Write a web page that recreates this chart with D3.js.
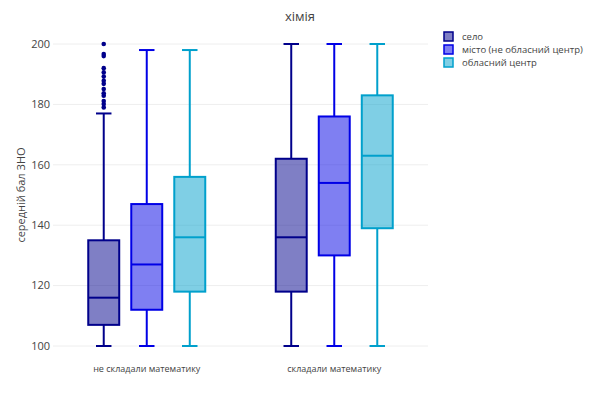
<!DOCTYPE html>
<html>
<head>
<meta charset="utf-8">
<script src="https://cdn.jsdelivr.net/npm/d3@7"></script>
<style>
  body { margin: 0; background: #fff; }
  text { font-family: "Open Sans", sans-serif; fill: #444; }
</style>
</head>
<body>
<div id="chart"></div>
<script>
// categories and series
const groups = ['не складали математику', 'складали математику']
const seriesNames = ['село', 'місто (не обласний центр)', 'обласний центр']
const seriesColors = ['#00008b', '#0000e6', '#00a0cc']
const yTicks = [100, 120, 140, 160, 180, 200]

// box stats per series: [group1, group2] -> [low, q1, median, q3, high]
const selo = [[100, 107, 116, 135, 177], [100, 118, 136, 162, 200]]
const misto = [[100, 112, 127, 147, 198], [100, 130, 154, 176, 200]]
const oblCentr = [[100, 118, 136, 156, 198], [100, 139, 163, 183, 200]]
// outliers (only село, first group)
const seloOutliers = [179, 180.1, 181.1, 182.9, 183.7, 185.1, 186.8, 187.8, 189.2, 190.6, 192, 196, 196.7, 200]

const allStats = [selo, misto, oblCentr]

const width = 600, height = 399
const margin = { top: 44, right: 172, bottom: 53, left: 53 }

const svg = d3.select('#chart')
  .append('svg')
  .attr('width', width)
  .attr('height', height)

const y = d3.scaleLinear()
  .domain([100, 200])
  .range([height - margin.bottom, margin.top])

const x = d3.scaleBand()
  .domain(groups)
  .range([margin.left, width - margin.right])

const xInner = d3.scaleBand()
  .domain(seriesNames)
  .range([-58.5, 58.5])
  .paddingInner(0.28)

// grid
svg.append('g')
  .selectAll('line')
  .data(yTicks)
  .join('line')
  .attr('x1', margin.left)
  .attr('x2', width - margin.right)
  .attr('y1', d => y(d))
  .attr('y2', d => y(d))
  .attr('stroke', '#eee')
  .attr('stroke-width', 1)

// y tick labels
svg.append('g')
  .selectAll('text')
  .data(yTicks)
  .join('text')
  .attr('x', margin.left - 3)
  .attr('y', d => y(d))
  .attr('dy', '0.35em')
  .attr('text-anchor', 'end')
  .style('font-size', '11px')
  .text(d => d)

// x tick labels
svg.append('g')
  .selectAll('text')
  .data(groups)
  .join('text')
  .attr('x', d => x(d) + x.bandwidth() / 2)
  .attr('y', height - margin.bottom + 26)
  .attr('text-anchor', 'middle')
  .style('font-size', '9px')
  .text(d => d)

// boxes
const bw = xInner.bandwidth()
allStats.forEach((stats, si) => {
  const color = seriesColors[si]
  stats.forEach((s, gi) => {
    const cx = x(groups[gi]) + x.bandwidth() / 2 + xInner(seriesNames[si]) + bw / 2
    const g = svg.append('g')
    const [lo, q1, med, q3, hi] = s
    g.append('line')
      .attr('x1', cx).attr('x2', cx)
      .attr('y1', y(lo)).attr('y2', y(q1))
      .attr('stroke', color).attr('stroke-width', 2)
    g.append('line')
      .attr('x1', cx).attr('x2', cx)
      .attr('y1', y(q3)).attr('y2', y(hi))
      .attr('stroke', color).attr('stroke-width', 2)
    g.selectAll('line.cap')
      .data([lo, hi])
      .join('line')
      .attr('class', 'cap')
      .attr('x1', cx - bw / 4).attr('x2', cx + bw / 4)
      .attr('y1', d => y(d)).attr('y2', d => y(d))
      .attr('stroke', color).attr('stroke-width', 2)
    g.append('rect')
      .attr('x', cx - bw / 2)
      .attr('y', y(q3))
      .attr('width', bw)
      .attr('height', y(q1) - y(q3))
      .attr('fill', color)
      .attr('fill-opacity', 0.5)
      .attr('stroke', color)
      .attr('stroke-width', 2)
    g.append('line')
      .attr('x1', cx - bw / 2).attr('x2', cx + bw / 2)
      .attr('y1', y(med)).attr('y2', y(med))
      .attr('stroke', color).attr('stroke-width', 2)

    if (si === 0 && gi === 0) {
      g.selectAll('circle')
        .data(seloOutliers)
        .join('circle')
        .attr('cx', cx)
        .attr('cy', d => y(d))
        .attr('r', 2.3)
        .attr('fill', color)
    }
  })
})

// title
svg.append('text')
  .attr('x', width / 2)
  .attr('y', 21)
  .attr('text-anchor', 'middle')
  .style('font-size', '13px')
  .text('хімія')

// y axis title
svg.append('text')
  .attr('transform', `translate(25, ${(margin.top + height - margin.bottom) / 2}) rotate(-90)`)
  .attr('text-anchor', 'middle')
  .style('font-size', '11px')
  .text('середній бал ЗНО')

// legend
const legend = svg.append('g')
  .attr('transform', 'translate(444, 32)')
legend.selectAll('rect')
  .data(seriesNames)
  .join('rect')
  .attr('x', 0)
  .attr('y', (d, i) => i * 13)
  .attr('width', 9)
  .attr('height', 9)
  .attr('fill', (d, i) => seriesColors[i])
  .attr('fill-opacity', 0.5)
  .attr('stroke', (d, i) => seriesColors[i])
  .attr('stroke-width', 1.5)
legend.selectAll('text')
  .data(seriesNames)
  .join('text')
  .attr('x', 18)
  .attr('y', (d, i) => i * 13 + 4.5)
  .attr('dy', '0.35em')
  .style('font-size', '9.5px')
  .text(d => d)
</script>
</body>
</html>
